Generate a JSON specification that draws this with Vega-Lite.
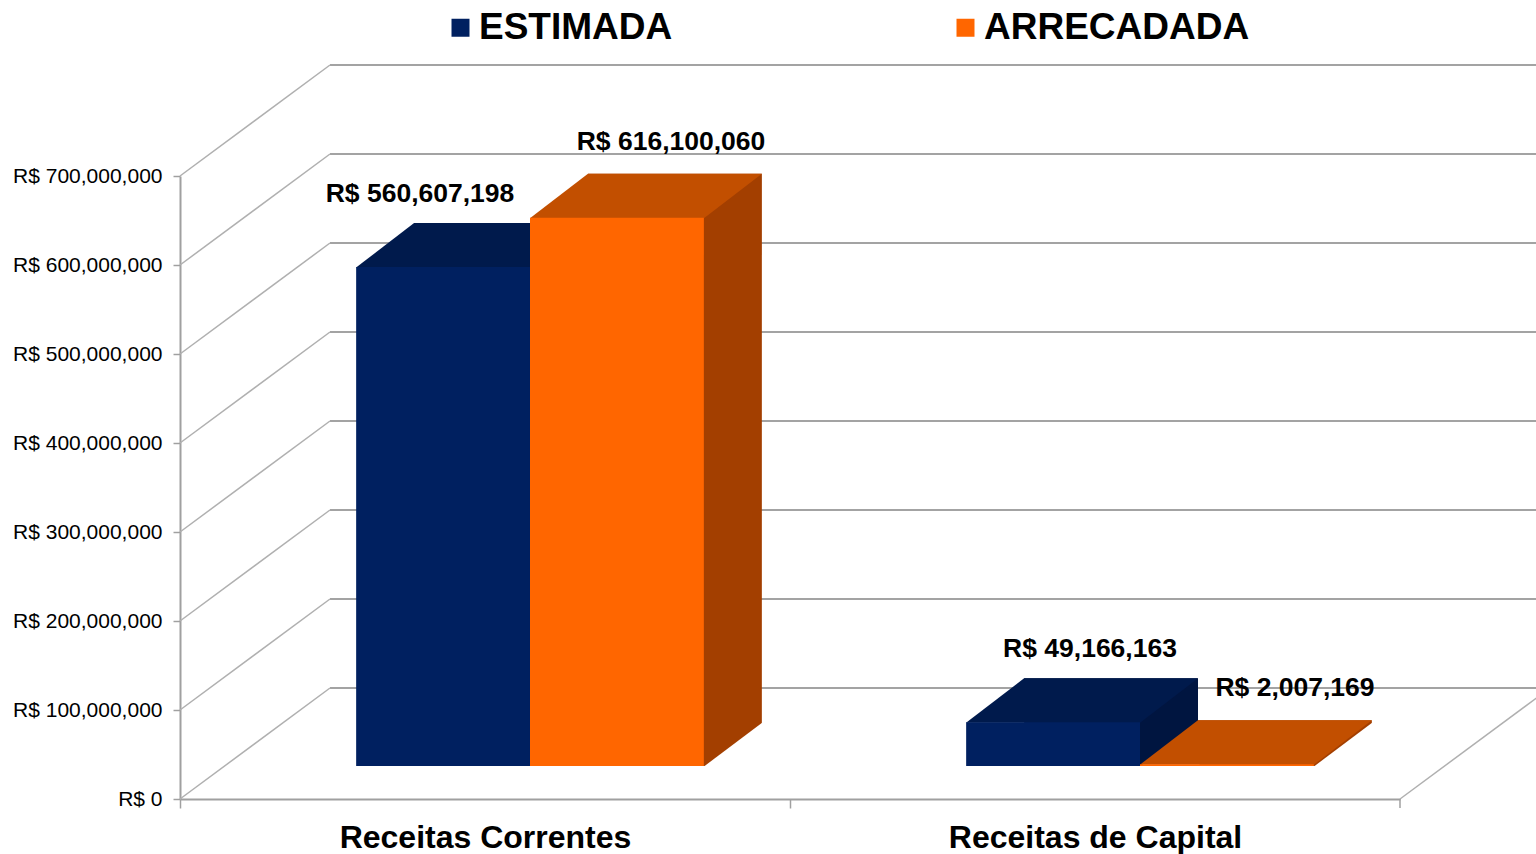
{
  "$schema": "https://vega.github.io/schema/vega-lite/v6.json",
  "width": 1220,
  "height": 623,
  "autosize": {"type": "none"},
  "padding": {"left": 180, "top": 176, "right": 136, "bottom": 55},
  "background": "white",
  "config": {
    "view": {"stroke": null},
    "font": "Liberation Sans",
    "locale": {
      "number": {"decimal": ".", "thousands": ",", "grouping": [3], "currency": ["R$ ", ""]}
    }
  },
  "datasets": {
    "receitas": [
      {"categoria": "Receitas Correntes", "tipo": "ESTIMADA", "valor": 560607198},
      {"categoria": "Receitas Correntes", "tipo": "ARRECADADA", "valor": 616100060},
      {"categoria": "Receitas de Capital", "tipo": "ESTIMADA", "valor": 49166163},
      {"categoria": "Receitas de Capital", "tipo": "ARRECADADA", "valor": 2007169}
    ],
    "grade": [
      {"v": 0}, {"v": 100000000}, {"v": 200000000}, {"v": 300000000},
      {"v": 400000000}, {"v": 500000000}, {"v": 600000000}, {"v": 700000000}
    ]
  },
  "resolve": {"scale": {"x": "independent", "xOffset": "independent"}, "axis": {"x": "independent"}},
  "layer": [
    {
      "data": {"name": "receitas"},
      "mark": {"type": "bar", "opacity": 0},
      "encoding": {
        "x": {
          "field": "categoria", "type": "nominal", "sort": null, "title": null,
          "scale": {"paddingInner": 0.43, "paddingOuter": 0.215},
          "axis": {
            "labelAngle": 0, "labelFontSize": 32, "labelFontWeight": "bold", "labelColor": "#000000",
            "labelLimit": 600, "domainColor": "#a0a0a0", "domainWidth": 2, "tickColor": "#a0a0a0", "tickWidth": 1.5,
            "tickSize": 9, "tickOffset": -305, "labelOffset": 305, "labelPadding": 14
          }
        },
        "y": {
          "field": "valor", "type": "quantitative", "title": null,
          "scale": {"domain": [0, 700000000], "nice": false},
          "axis": {
            "values": [0, 100000000, 200000000, 300000000, 400000000, 500000000, 600000000, 700000000],
            "format": "$,d", "labelFontSize": 21, "labelColor": "#000000", "grid": false,
            "domainColor": "#a0a0a0", "domainWidth": 2, "tickColor": "#a0a0a0", "tickWidth": 1.5,
            "tickSize": 7, "labelPadding": 11
          }
        }
      }
    },
    {
      "data": {"name": "grade"},
      "mark": {"type": "rule", "color": "#a3a3a3", "strokeWidth": 2, "yOffset": -111},
      "encoding": {
        "x": {"value": 150},
        "x2": {"value": 1370},
        "y": {"field": "v", "type": "quantitative"}
      }
    },
    {
      "data": {"name": "grade"},
      "mark": {"type": "rule", "color": "#b0b0b0", "strokeWidth": 1.5, "y2Offset": -111},
      "encoding": {
        "x": {"value": 0},
        "x2": {"value": 150},
        "y": {"field": "v", "type": "quantitative"},
        "y2": {"field": "v"}
      }
    },
    {
      "data": {"name": "grade"},
      "transform": [{"filter": "datum.v == 0"}],
      "mark": {"type": "rule", "color": "#b0b0b0", "strokeWidth": 1.5, "y2Offset": -111},
      "encoding": {
        "x": {"value": 1220},
        "x2": {"value": 1370},
        "y": {"field": "v", "type": "quantitative"},
        "y2": {"field": "v"}
      }
    },
    {
      "data": {"name": "grade"},
      "transform": [{"filter": "datum.v == 0"}],
      "mark": {"type": "rule", "color": "#a0a0a0", "strokeWidth": 1.5, "y2Offset": 9},
      "encoding": {
        "x": {"value": 1220},
        "y": {"field": "v", "type": "quantitative"},
        "y2": {"field": "v"}
      }
    },
    {
      "data": {"name": "receitas"},
      "mark": {"type": "bar", "yOffset": -77, "y2Offset": -33},
      "encoding": {
        "x": {"field": "categoria", "type": "nominal", "sort": null, "scale": {"paddingInner": 0.43, "paddingOuter": 0.215, "range": [103, 1323]}, "axis": null},
        "xOffset": {"field": "tipo", "type": "nominal", "sort": ["ESTIMADA", "ARRECADADA"]},
        "y": {"field": "valor", "type": "quantitative"},
        "y2": {"datum": 0},
        "color": {"condition": {"test": "datum.tipo == 'ESTIMADA'", "value": "#001540"}, "value": "#a33f00"}
      }
    },
    {
      "data": {"name": "receitas"},
      "mark": {"type": "point", "filled": true, "opacity": 1, "strokeWidth": 0, "size": 4, "color": "#ffffff", "yOffset": -33, "shape": "M87,0.5L146.5,0.5L146.5,-44.3Z"},
      "encoding": {
        "x": {"field": "categoria", "type": "nominal", "sort": null, "scale": {"paddingInner": 0.43, "paddingOuter": 0.215, "range": [45, 1265]}, "axis": null},
        "xOffset": {"field": "tipo", "type": "nominal", "sort": ["ESTIMADA", "ARRECADADA"]},
        "y": {"datum": 0, "type": "quantitative"}
      }
    },
    {
      "data": {"name": "receitas"},
      "mark": {"type": "point", "filled": true, "opacity": 1, "strokeWidth": 0, "size": 4, "yOffset": -33, "shape": "M-87,0.5L87,0.5L145,-44L-29,-44Z"},
      "encoding": {
        "x": {"field": "categoria", "type": "nominal", "sort": null, "scale": {"paddingInner": 0.43, "paddingOuter": 0.215, "range": [45, 1265]}, "axis": null},
        "xOffset": {"field": "tipo", "type": "nominal", "sort": ["ESTIMADA", "ARRECADADA"]},
        "y": {"field": "valor", "type": "quantitative"},
        "color": {"condition": {"test": "datum.tipo == 'ESTIMADA'", "value": "#001a4c"}, "value": "#c24f00"}
      }
    },
    {
      "data": {"name": "receitas"},
      "mark": {"type": "bar", "yOffset": -33, "y2Offset": -33},
      "encoding": {
        "x": {"field": "categoria", "type": "nominal", "sort": null, "scale": {"paddingInner": 0.43, "paddingOuter": 0.215, "range": [45, 1265]}, "axis": null},
        "xOffset": {"field": "tipo", "type": "nominal", "sort": ["ESTIMADA", "ARRECADADA"]},
        "y": {"field": "valor", "type": "quantitative"},
        "color": {
          "field": "tipo", "type": "nominal",
          "scale": {"domain": ["ESTIMADA", "ARRECADADA"], "range": ["#002060", "#ff6600"]},
          "legend": {
            "title": null, "orient": "none", "legendX": 262, "legendY": -167, "direction": "horizontal",
            "symbolType": "square", "symbolSize": 324, "symbolStrokeWidth": 0, "symbolOpacity": 1,
            "labelFontSize": 37, "labelFontWeight": "bold", "labelColor": "#000000", "labelOffset": 0,
            "columnPadding": 274, "padding": 0, "labelLimit": 400
          }
        }
      }
    },
    {
      "data": {"name": "receitas"},
      "transform": [{"filter": "datum.tipo == 'ESTIMADA'"}],
      "mark": {"type": "text", "fontSize": 26.5, "fontWeight": "bold", "color": "#000000", "baseline": "middle", "align": "center", "yOffset": -106},
      "encoding": {
        "x": {"field": "categoria", "type": "nominal", "sort": null, "scale": {"paddingInner": 0, "paddingOuter": 0, "range": [-95, 1245]}, "axis": null},
        "y": {"field": "valor", "type": "quantitative"},
        "text": {"field": "valor", "type": "quantitative", "format": "$,d"}
      }
    },
    {
      "data": {"name": "receitas"},
      "transform": [{"filter": "datum.tipo == 'ARRECADADA'"}],
      "mark": {"type": "text", "fontSize": 26.5, "fontWeight": "bold", "color": "#000000", "baseline": "middle", "align": "center", "yOffset": -109},
      "encoding": {
        "x": {"field": "categoria", "type": "nominal", "sort": null, "scale": {"paddingInner": 0, "paddingOuter": 0, "range": [179, 1427]}, "axis": null},
        "y": {"field": "valor", "type": "quantitative"},
        "text": {"field": "valor", "type": "quantitative", "format": "$,d"}
      }
    }
  ]
}
